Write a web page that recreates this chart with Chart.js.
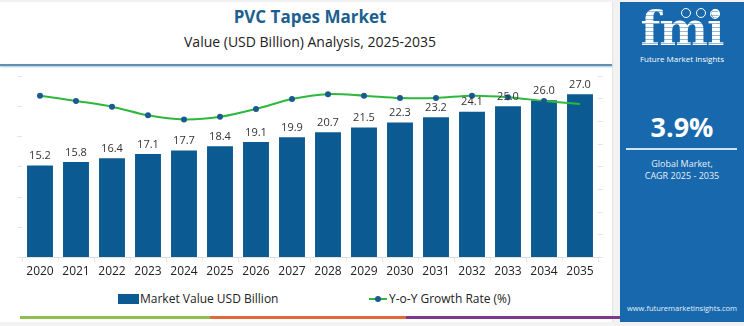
<!DOCTYPE html>
<html>
<head>
<meta charset="utf-8">
<script src="https://cdn.jsdelivr.net/npm/chart.js@4.4.1/dist/chart.umd.min.js"></script>
<style>
  html,body{margin:0;padding:0;}
  body{width:744px;height:326px;background:#f2f2f2;position:relative;overflow:hidden;font-family:"Open Sans",sans-serif;}
  #left{position:absolute;left:0;top:2px;width:612px;height:320px;background:#fff;border-right:1px solid #e4e4e4;}
  #title{position:absolute;left:0;width:620px;top:5px;text-align:center;font-weight:700;font-size:17px;color:#1d5f90;}
  #sub{position:absolute;left:0;width:620px;top:32px;text-align:center;font-size:14px;color:#222;}
  #hline{position:absolute;left:0;top:64px;width:612px;height:2px;background:#5f8fb3;box-shadow:0 1px 2px rgba(90,140,180,0.5);}
  #chartbox{position:absolute;left:0;top:68px;width:612px;height:218px;}
  #legend{position:absolute;top:290px;left:0;width:620px;height:16px;font-size:12px;color:#222;}
  .lg{position:absolute;top:0;white-space:nowrap;}
  .sw{display:inline-block;width:21px;height:10px;background:#0b5a92;vertical-align:-1px;margin-right:1px;}
  .ln{display:inline-block;width:18px;height:2px;background:#2db83d;position:relative;vertical-align:3px;margin-right:2px;}
  .ln:after{content:"";position:absolute;left:6px;top:-2px;width:6px;height:6px;border-radius:50%;background:#1a5a8f;}
  #strip{position:absolute;top:316px;left:20px;height:3px;width:600px;display:flex;}
  #right{position:absolute;left:620px;top:2px;width:124px;height:320px;background:#1768ac;color:#fff;text-align:center;}
  #fmi{position:absolute;left:0;width:124px;top:2px;font-family:"DejaVu Serif",serif;font-weight:700;font-size:46px;letter-spacing:-1px;line-height:50px;
       background:repeating-linear-gradient(#fff 0 3px, rgba(255,255,255,0.55) 3px 4px);-webkit-background-clip:text;background-clip:text;color:transparent;}
  .ic{position:absolute;width:8px;height:8px;border:1.5px solid #fff;border-radius:50%;}
  #fmitxt{position:absolute;left:0;width:124px;top:51px;font-size:8px;}
  #pct{position:absolute;left:0;width:124px;top:106px;font-size:27px;font-weight:700;}
  #pline{position:absolute;left:6px;top:146px;width:111px;height:1.5px;background:#cfe3f3;}
  #g1{position:absolute;left:0;width:124px;top:156px;font-size:9px;line-height:12px;color:#e6f0f8;}
  #www{position:absolute;left:0;width:124px;top:301px;font-size:7.5px;color:#e6f0f8;}
</style>
</head>
<body>
<div id="left">
</div>
<div id="title">PVC Tapes Market</div>
<div id="sub">Value (USD Billion) Analysis, 2025-2035</div>
<div id="hline"></div>
<div id="chartbox"><canvas id="c"></canvas></div>
<div id="legend">
  <div class="lg" style="left:118px"><span class="sw"></span>Market Value USD Billion</div>
  <div class="lg" style="left:369px"><span class="ln"></span>Y-o-Y Growth Rate (%)</div>
</div>
<div id="strip">
  <div style="width:190px;background:#8cc152"></div>
  <div style="width:196px;background:#e06a3b"></div>
  <div style="width:214px;background:#7a3b8e"></div>
</div>
<div id="right">
  <div id="fmi">fmi</div>
  <div class="ic" style="left:61px;top:6px"></div>
  <div class="ic" style="left:76px;top:6px"></div>
  <div class="ic" style="left:90px;top:7px"></div>
  <div id="fmitxt">Future Market Insights</div>
  <div id="pct">3.9%</div>
  <div id="pline"></div>
  <div id="g1">Global Market,<br>CAGR 2025 - 2035</div>
  <div id="www">www.futuremarketinsights.com</div>
</div>
<script>
const years = ["2020","2021","2022","2023","2024","2025","2026","2027","2028","2029","2030","2031","2032","2033","2034","2035"];
const marketValue = [15.2,15.8,16.4,17.1,17.7,18.4,19.1,19.9,20.7,21.5,22.3,23.2,24.1,25.0,26.0,27.0];
const growthRate = [4.28,4.14,3.99,3.76,3.65,3.72,3.93,4.19,4.32,4.28,4.22,4.22,4.28,4.24,4.14,4.06];

const labelPlugin = {
  id:'barLabels',
  afterDatasetsDraw(chart){
    const ctx = chart.ctx;
    const meta = chart.getDatasetMeta(1);
    ctx.save();
    ctx.font = '11px "Open Sans", sans-serif';
    ctx.fillStyle = '#333';
    ctx.textAlign = 'center';
    ctx.textBaseline = 'bottom';
    meta.data.forEach((bar,i)=>{
      ctx.fillText(marketValue[i].toFixed(1), bar.x, bar.y - 4);
    });
    ctx.restore();
  }
};

new Chart(document.getElementById('c'), {
  data:{
    labels: years,
    datasets:[
      {type:'line', label:'Y-o-Y Growth Rate (%)', data: growthRate, yAxisID:'y1', order:0,
       borderColor:'#2db83d', borderWidth:2, tension:0.3,
       pointRadius: growthRate.map((v,i)=> i===growthRate.length-1 ? 0 : 3),
       pointBackgroundColor:'#1a5a8f', pointBorderColor:'#1a5a8f', pointBorderWidth:0},
      {type:'bar', label:'Market Value USD Billion', data: marketValue, yAxisID:'y', order:1,
       backgroundColor:'#0b5a92', categoryPercentage:0.8, barPercentage:0.9}
    ]
  },
  options:{
    responsive:true, maintainAspectRatio:false, animation:false,
    layout:{padding:{top:8,left:17,right:9,bottom:4}},
    plugins:{legend:{display:false}, tooltip:{enabled:false}},
    scales:{
      x:{
        grid:{drawOnChartArea:false, tickLength:4, color:'#e6e6e6'},
        border:{color:'#e0e0e0'},
        ticks:{font:{family:'"Open Sans", sans-serif', size:12}, color:'#222', padding:3}
      },
      y:{
        position:'left', min:0, max:30,
        ticks:{display:false, stepSize:5},
        grid:{drawOnChartArea:false, tickLength:5, color:'#e3e3e3'},
        border:{display:false}
      },
      y1:{
        position:'right', min:0, max:4.8,
        ticks:{display:false, stepSize:0.6},
        grid:{drawOnChartArea:false, tickLength:5, color:'#e3e3e3'},
        border:{display:false}
      }
    }
  },
  plugins:[labelPlugin]
});
</script>
</body>
</html>
